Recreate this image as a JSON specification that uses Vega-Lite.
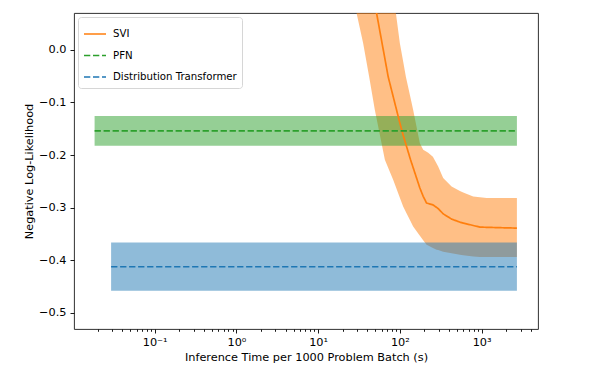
{
  "$schema": "https://vega.github.io/schema/vega-lite/v6.json",
  "autosize": {"type": "none"},
  "padding": {"left": 74, "top": 13, "right": 60, "bottom": 46},
  "width": 464,
  "height": 316,
  "config": {
    "font": "DejaVu Sans",
    "view": {"stroke": "#1a1a1a", "strokeWidth": 0.9},
    "axis": {
      "domain": false,
      "grid": false,
      "tickColor": "#000000",
      "tickWidth": 0.9,
      "labelColor": "#000000",
      "labelFontSize": 11.3,
      "titleFontSize": 11.3,
      "titleFontWeight": "normal",
      "titleColor": "#000000"
    },
    "legend": {
      "orient": "top-left",
      "offset": 4,
      "fillColor": "white",
      "strokeColor": "#d6d6d6",
      "cornerRadius": 3,
      "padding": 5,
      "symbolType": "stroke",
      "symbolSize": 484,
      "symbolStrokeWidth": 1.7,
      "labelFontSize": 10.2,
      "labelColor": "#000000",
      "rowPadding": 3.5,
      "labelOffset": 6
    }
  },
  "data": {
    "values": [
      {"method": "SVI", "x": 18.44, "y": 0.4563, "lo": 0.2129, "hi": 0.7091},
      {"method": "SVI", "x": 23.10, "y": 0.3707, "lo": 0.1445, "hi": 0.6179},
      {"method": "SVI", "x": 29.51, "y": 0.2795, "lo": 0.0703, "hi": 0.5190},
      {"method": "SVI", "x": 35.55, "y": 0.2103, "lo": 0.0127, "hi": 0.4430},
      {"method": "SVI", "x": 42.10, "y": 0.1475, "lo": -0.0508, "hi": 0.3745},
      {"method": "SVI", "x": 49.43, "y": 0.0880, "lo": -0.1141, "hi": 0.3099},
      {"method": "SVI", "x": 59.70, "y": 0.0181, "lo": -0.1774, "hi": 0.2338},
      {"method": "SVI", "x": 65.54, "y": -0.0163, "lo": -0.2091, "hi": 0.1958},
      {"method": "SVI", "x": 71.92, "y": -0.0508, "lo": -0.2243, "hi": 0.1578},
      {"method": "SVI", "x": 82.79, "y": -0.0886, "lo": -0.2471, "hi": 0.1008},
      {"method": "SVI", "x": 89.35, "y": -0.1089, "lo": -0.2608, "hi": 0.0703},
      {"method": "SVI", "x": 100.0, "y": -0.1392, "lo": -0.2812, "hi": 0.0127},
      {"method": "SVI", "x": 109.75, "y": -0.1622, "lo": -0.2979, "hi": -0.0222},
      {"method": "SVI", "x": 118.44, "y": -0.1793, "lo": -0.3082, "hi": -0.0508},
      {"method": "SVI", "x": 135.2, "y": -0.2091, "lo": -0.3260, "hi": -0.0914},
      {"method": "SVI", "x": 145.5, "y": -0.2241, "lo": -0.3359, "hi": -0.1141},
      {"method": "SVI", "x": 175.7, "y": -0.2627, "lo": -0.3534, "hi": -0.1774},
      {"method": "SVI", "x": 192.9, "y": -0.2785, "lo": -0.3620, "hi": -0.1901},
      {"method": "SVI", "x": 212.3, "y": -0.2914, "lo": -0.3707, "hi": -0.1939},
      {"method": "SVI", "x": 222.0, "y": -0.2922, "lo": -0.3722, "hi": -0.1958},
      {"method": "SVI", "x": 253.5, "y": -0.2947, "lo": -0.3768, "hi": -0.2034},
      {"method": "SVI", "x": 281.3, "y": -0.2996, "lo": -0.3802, "hi": -0.2163},
      {"method": "SVI", "x": 294.3, "y": -0.3019, "lo": -0.3808, "hi": -0.2219},
      {"method": "SVI", "x": 338.8, "y": -0.3118, "lo": -0.3840, "hi": -0.2439},
      {"method": "SVI", "x": 429.3, "y": -0.3219, "lo": -0.3869, "hi": -0.2599},
      {"method": "SVI", "x": 542.6, "y": -0.3276, "lo": -0.3897, "hi": -0.2684},
      {"method": "SVI", "x": 595.5, "y": -0.3295, "lo": -0.3907, "hi": -0.2713},
      {"method": "SVI", "x": 789.3, "y": -0.3340, "lo": -0.3932, "hi": -0.2789},
      {"method": "SVI", "x": 953.3, "y": -0.3371, "lo": -0.3941, "hi": -0.2804},
      {"method": "SVI", "x": 1151, "y": -0.3375, "lo": -0.3941, "hi": -0.2819},
      {"method": "SVI", "x": 1675, "y": -0.3382, "lo": -0.3941, "hi": -0.2819},
      {"method": "SVI", "x": 2704, "y": -0.3390, "lo": -0.3941, "hi": -0.2819},
      {"method": "PFN", "x": 0.0184, "y": -0.154, "lo": -0.1825, "hi": -0.1255},
      {"method": "PFN", "x": 2704, "y": -0.154, "lo": -0.1825, "hi": -0.1255},
      {"method": "Distribution Transformer", "x": 0.0293, "y": -0.4125, "lo": -0.458, "hi": -0.3663},
      {"method": "Distribution Transformer", "x": 2704, "y": -0.4125, "lo": -0.458, "hi": -0.3663}
    ]
  },
  "encoding": {
    "x": {
      "field": "x",
      "type": "quantitative",
      "scale": {"type": "log", "domain": [0.0103, 4900], "nice": false},
      "axis": {
        "title": "Inference Time per 1000 Problem Batch (s)",
        "values": [0.02, 0.03, 0.04, 0.05, 0.06, 0.07, 0.08, 0.09, 0.1, 0.2, 0.3, 0.4, 0.5, 0.6, 0.7, 0.8, 0.9, 1, 2, 3, 4, 5, 6, 7, 8, 9, 10, 20, 30, 40, 50, 60, 70, 80, 90, 100, 200, 300, 400, 500, 600, 700, 800, 900, 1000, 2000, 3000, 4000],
        "labelExpr": "datum.value == 0.1 ? '10⁻¹' : datum.value == 1 ? '10⁰' : datum.value == 10 ? '10¹' : datum.value == 100 ? '10²' : datum.value == 1000 ? '10³' : ''",
        "tickSize": {"condition": {"test": "indexof([0.1, 1, 10, 100, 1000], datum.value) >= 0", "value": 4}, "value": 2.3},
        "labelPadding": 3,
        "titlePadding": 4,
        "labelFlush": false,
        "labelOverlap": false
      }
    }
  },
  "layer": [
    {
      "transform": [{"filter": "datum.method == 'SVI'"}],
      "mark": {"type": "area", "color": "#ff7f0e", "opacity": 0.5, "clip": true},
      "encoding": {
        "y": {"field": "lo", "type": "quantitative", "scale": {"domain": [-0.531, 0.0703], "nice": false, "zero": false}, "axis": {"title": "Negative Log-Likelihood", "values": [-0.5, -0.4, -0.3, -0.2, -0.1, 0.0], "format": ".1f", "tickSize": 4, "labelPadding": 4}},
        "y2": {"field": "hi"}
      }
    },
    {
      "transform": [{"filter": "datum.method == 'PFN'"}],
      "mark": {"type": "area", "color": "#2ca02c", "opacity": 0.5, "clip": true},
      "encoding": {
        "y": {"field": "lo", "type": "quantitative", "scale": {"domain": [-0.531, 0.0703], "nice": false, "zero": false}, "axis": {"title": "Negative Log-Likelihood", "values": [-0.5, -0.4, -0.3, -0.2, -0.1, 0.0], "format": ".1f", "tickSize": 4, "labelPadding": 4}},
        "y2": {"field": "hi"}
      }
    },
    {
      "transform": [{"filter": "datum.method == 'Distribution Transformer'"}],
      "mark": {"type": "area", "color": "#1f77b4", "opacity": 0.5, "clip": true},
      "encoding": {
        "y": {"field": "lo", "type": "quantitative", "scale": {"domain": [-0.531, 0.0703], "nice": false, "zero": false}, "axis": {"title": "Negative Log-Likelihood", "values": [-0.5, -0.4, -0.3, -0.2, -0.1, 0.0], "format": ".1f", "tickSize": 4, "labelPadding": 4}},
        "y2": {"field": "hi"}
      }
    },
    {
      "mark": {"type": "line", "strokeWidth": 1.7, "clip": true},
      "encoding": {
        "y": {"field": "y", "type": "quantitative", "scale": {"domain": [-0.531, 0.0703], "nice": false, "zero": false}, "axis": {"title": "Negative Log-Likelihood", "values": [-0.5, -0.4, -0.3, -0.2, -0.1, 0.0], "format": ".1f", "tickSize": 4, "labelPadding": 4}},
        "color": {"field": "method", "type": "nominal", "title": null, "scale": {"domain": ["SVI", "PFN", "Distribution Transformer"], "range": ["#ff7f0e", "#2ca02c", "#1f77b4"]}},
        "strokeDash": {"field": "method", "type": "nominal", "title": null, "scale": {"domain": ["SVI", "PFN", "Distribution Transformer"], "range": [[1, 0], [6.3, 2.7], [6.3, 2.7]]}}
      }
    }
  ]
}
